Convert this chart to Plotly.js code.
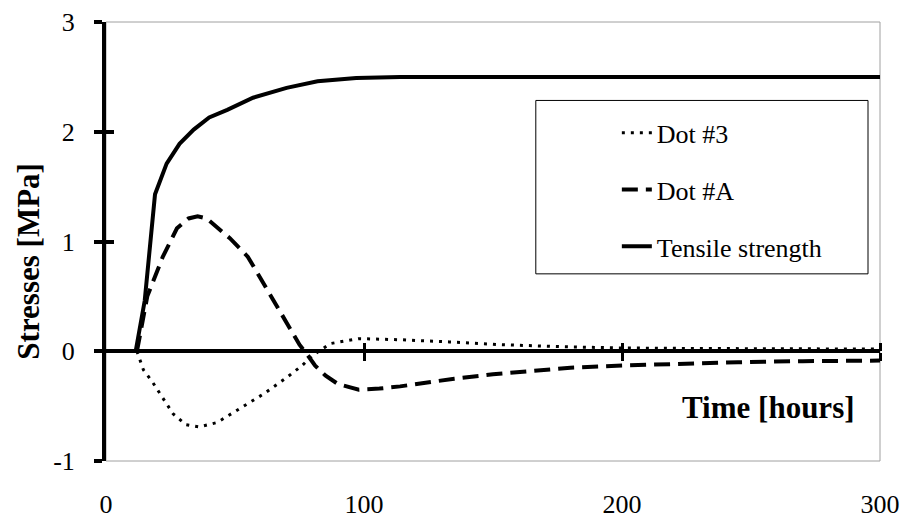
<!DOCTYPE html>
<html>
<head>
<meta charset="utf-8">
<script src="https://cdn.plot.ly/plotly-3.0.1.min.js"></script>
<style>html,body{margin:0;padding:0;background:#fff;}#chart{width:907px;height:523px;}</style>
</head>
<body>
<div id="chart"></div>
<script>
// ---- data ----
const seriesNames = ["Dot #3", "Dot #A", "Tensile strength"];

const dot3Time   = [12, 14.5, 18, 22, 26, 31, 36, 43, 52, 61, 70, 76, 80, 87, 98, 114, 133, 153, 179, 200, 230, 260, 300];
const dot3Stress = [0, -0.17, -0.28, -0.43, -0.57, -0.67, -0.69, -0.65, -0.52, -0.39, -0.24, -0.13, -0.04, 0.07, 0.115, 0.105, 0.085, 0.06, 0.04, 0.03, 0.025, 0.02, 0.02];

const dotATime   = [12, 16, 22, 27.5, 32, 35.5, 39, 42, 48, 55, 62, 69, 75, 78, 81, 85, 90, 98, 106, 114, 125, 135, 150, 165, 180, 200, 220, 245, 270, 300];
const dotAStress = [0, 0.5, 0.86, 1.12, 1.21, 1.23, 1.21, 1.15, 1.03, 0.86, 0.58, 0.30, 0.06, -0.03, -0.13, -0.22, -0.30, -0.35, -0.34, -0.32, -0.28, -0.25, -0.21, -0.18, -0.15, -0.13, -0.115, -0.10, -0.09, -0.085];

const tensileTime   = [11.5, 15, 19, 23.5, 28.5, 34, 40, 47, 57, 70, 82, 97, 114, 150, 200, 250, 300];
const tensileStress = [0, 0.46, 1.43, 1.71, 1.89, 2.02, 2.13, 2.20, 2.31, 2.40, 2.46, 2.49, 2.50, 2.50, 2.50, 2.50, 2.50];

const xTickVals = [0, 100, 200, 300];
const xTickText = ["0", "100", "200", "300"];
const yTickVals = [-1, 0, 1, 2, 3];
const yTickText = ["-1", "0", "1", "2", "3"];
const xAxisCrossTicks = [100, 200, 300];
const xTitle = "Time [hours]";
const yTitle = "Stresses [MPa]";

// ---- chart ----
const SERIF = '"Liberation Serif", serif';

// traces are spread over overlaid axes (all with identical ranges) so that
// the crossing tick marks of the axes are drawn.
const traces = [
  {x: dot3Time, y: dot3Stress, name: seriesNames[0], legendgroup: "a", mode: "lines",
   xaxis: "x2", yaxis: "y",
   line: {color: "#000", width: 3, dash: "3px,6px"}},
  {x: dotATime, y: dotAStress, name: seriesNames[1], legendgroup: "b", mode: "lines",
   xaxis: "x3", yaxis: "y2",
   line: {color: "#000", width: 4, dash: "16px,8px"}},
  {x: tensileTime, y: tensileStress, name: seriesNames[2], legendgroup: "c", mode: "lines",
   xaxis: "x", yaxis: "y",
   line: {color: "#000", width: 4}}
];

const layout = {
  width: 907, height: 523,
  margin: {l: 105.7, r: 27, t: 22.3, b: 62},
  paper_bgcolor: "#fff", plot_bgcolor: "#fff",
  font: {family: SERIF, size: 26, color: "#000"},
  showlegend: true,
  legend: {x: 0.660, y: 0.801, xanchor: "left", yanchor: "top",
           bgcolor: "rgba(0,0,0,0)", borderwidth: 0, tracegroupgap: 20,
           font: {family: SERIF, size: 26, color: "#000"}},
  xaxis: {range: [0, 300], tickvals: xTickVals, ticktext: xTickText, showgrid: false, zeroline: false,
          showline: false, ticks: "", ticklabelstandoff: 25,
          tickfont: {family: SERIF, size: 26, color: "#000"}},
  xaxis2: {overlaying: "x", anchor: "free", position: 0.25, range: [0, 300], side: "bottom",
           showline: true, linecolor: "#000", linewidth: 4, showgrid: false, zeroline: false,
           tickvals: xAxisCrossTicks, ticks: "outside", ticklen: 8, tickwidth: 3, tickcolor: "#000",
           showticklabels: false},
  xaxis3: {overlaying: "x", anchor: "free", position: 0.25, range: [0, 300], side: "top",
           showline: false, showgrid: false, zeroline: false,
           tickvals: xAxisCrossTicks, ticks: "outside", ticklen: 8, tickwidth: 3, tickcolor: "#000",
           showticklabels: false},
  yaxis: {range: [-1, 3], tickvals: yTickVals, ticktext: yTickText, showgrid: false, zeroline: false,
          showline: true, linecolor: "#000", linewidth: 4,
          ticks: "outside", ticklen: 8, tickwidth: 4, tickcolor: "#000", ticklabelstandoff: 14,
          tickfont: {family: SERIF, size: 26, color: "#000"}},
  yaxis2: {overlaying: "y", anchor: "x", side: "left", range: [-1, 3], tickvals: yTickVals,
           showgrid: false, zeroline: false, showline: false,
           ticks: "inside", ticklen: 8, tickwidth: 4, tickcolor: "#000", showticklabels: false},
  shapes: [
    {type: "rect", xref: "paper", yref: "paper", x0: 0, x1: 1, y0: 0, y1: 1,
     line: {color: "#a0a0a0", width: 1}, layer: "below"},
    {type: "rect", xref: "paper", yref: "paper", x0: 0.5553, x1: 0.9845, y0: 0.4263, y1: 0.8213,
     line: {color: "#000", width: 1}, fillcolor: "#fff", layer: "below"}
  ],
  annotations: [
    {text: "<b>" + xTitle + "</b>", xref: "paper", yref: "paper", x: 0.970, y: 0.123,
     xanchor: "right", yanchor: "middle", showarrow: false,
     font: {family: SERIF, size: 31, color: "#000"}},
    {text: "<b>" + yTitle + "</b>", xref: "paper", yref: "paper", x: -0.0997, y: 0.456,
     xanchor: "center", yanchor: "middle", textangle: -90, showarrow: false,
     font: {family: SERIF, size: 31, color: "#000"}}
  ]
};

Plotly.newPlot("chart", traces, layout, {displayModeBar: false, staticPlot: true});
</script>
</body>
</html>
